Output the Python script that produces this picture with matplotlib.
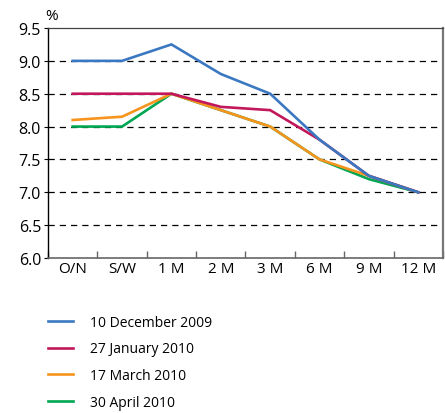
import matplotlib
matplotlib.use("Agg")
import matplotlib.pyplot as plt
from matplotlib.ticker import FixedLocator

categories = ["O/N", "S/W", "1 M", "2 M", "3 M", "6 M", "9 M", "12 M"]
dec_2009 = [9.0, 9.0, 9.25, 8.8, 8.5, 7.8, 7.25, 7.0]
jan_2010 = [8.5, 8.5, 8.5, 8.3, 8.25, 7.8, 7.25, 7.0]
mar_2010 = [8.1, 8.15, 8.5, 8.25, 8.0, 7.5, 7.25, 7.0]
apr_2010 = [8.0, 8.0, 8.5, 8.25, 8.0, 7.5, 7.2, 7.0]
yticks = [6.0, 6.5, 7.0, 7.5, 8.0, 8.5, 9.0, 9.5]

plt.rcParams['font.family'] = ['Open Sans', 'DejaVu Sans']

fig = plt.figure(figsize=(4.45, 4.14), dpi=100)
ax = fig.add_axes([48/445, 1-259/414, (443-48)/445, (259-29)/414])

x = list(range(len(categories)))
series = [
    (dec_2009, "#3b78c2", "10 December 2009", 5),
    (jan_2010, "#c2185b", "27 January 2010", 4),
    (mar_2010, "#f7941d", "17 March 2010", 3),
    (apr_2010, "#00a651", "30 April 2010", 2),
]
handles = []
for vals, col, lab, z in series:
    h, = ax.plot(x, vals, color=col, lw=1.9, label=lab, zorder=z, solid_joinstyle='miter')
    handles.append(h)

ax.set_xlim(-0.5, len(categories) - 0.5)
ax.set_ylim(6.0, 9.5)
ax.set_yticks(yticks)
ax.set_yticklabels([f"{v:.1f}" for v in yticks], fontsize=11.5)
ax.tick_params(axis='y', length=3, width=0.8, color='black', pad=2)

for v in yticks[1:-1]:
    ax.axhline(v, color='black', lw=0.9, dashes=(5, 4), zorder=1)

ax.xaxis.set_major_locator(FixedLocator([i - 0.5 for i in range(len(categories) + 1)]))
ax.xaxis.set_minor_locator(FixedLocator(x))
ax.set_xticklabels([])
ax.set_xticklabels(categories, minor=True, fontsize=11)
ax.tick_params(axis='x', which='major', direction='in', length=5, width=1, color='#666666')
ax.tick_params(axis='x', which='minor', length=0, pad=2)

ax.spines['left'].set_color('black')
ax.spines['left'].set_linewidth(1.0)
ax.spines['bottom'].set_color('#666666')
ax.spines['bottom'].set_linewidth(1.2)
ax.spines['top'].set_color('#444444')
ax.spines['top'].set_linewidth(0.9)
ax.spines['right'].set_color('#777777')
ax.spines['right'].set_linewidth(1.6)

fig.text(45/445, 1-16/414, "%", fontsize=11, ha='left', va='center')

fig.legend(handles=handles, loc='upper left', bbox_to_anchor=(42.5/445, 1-310/414),
           frameon=False, fontsize=10, handlelength=1.8, handletextpad=1.2,
           labelspacing=0.85, borderaxespad=0)

fig.savefig("out.png", dpi=100)
